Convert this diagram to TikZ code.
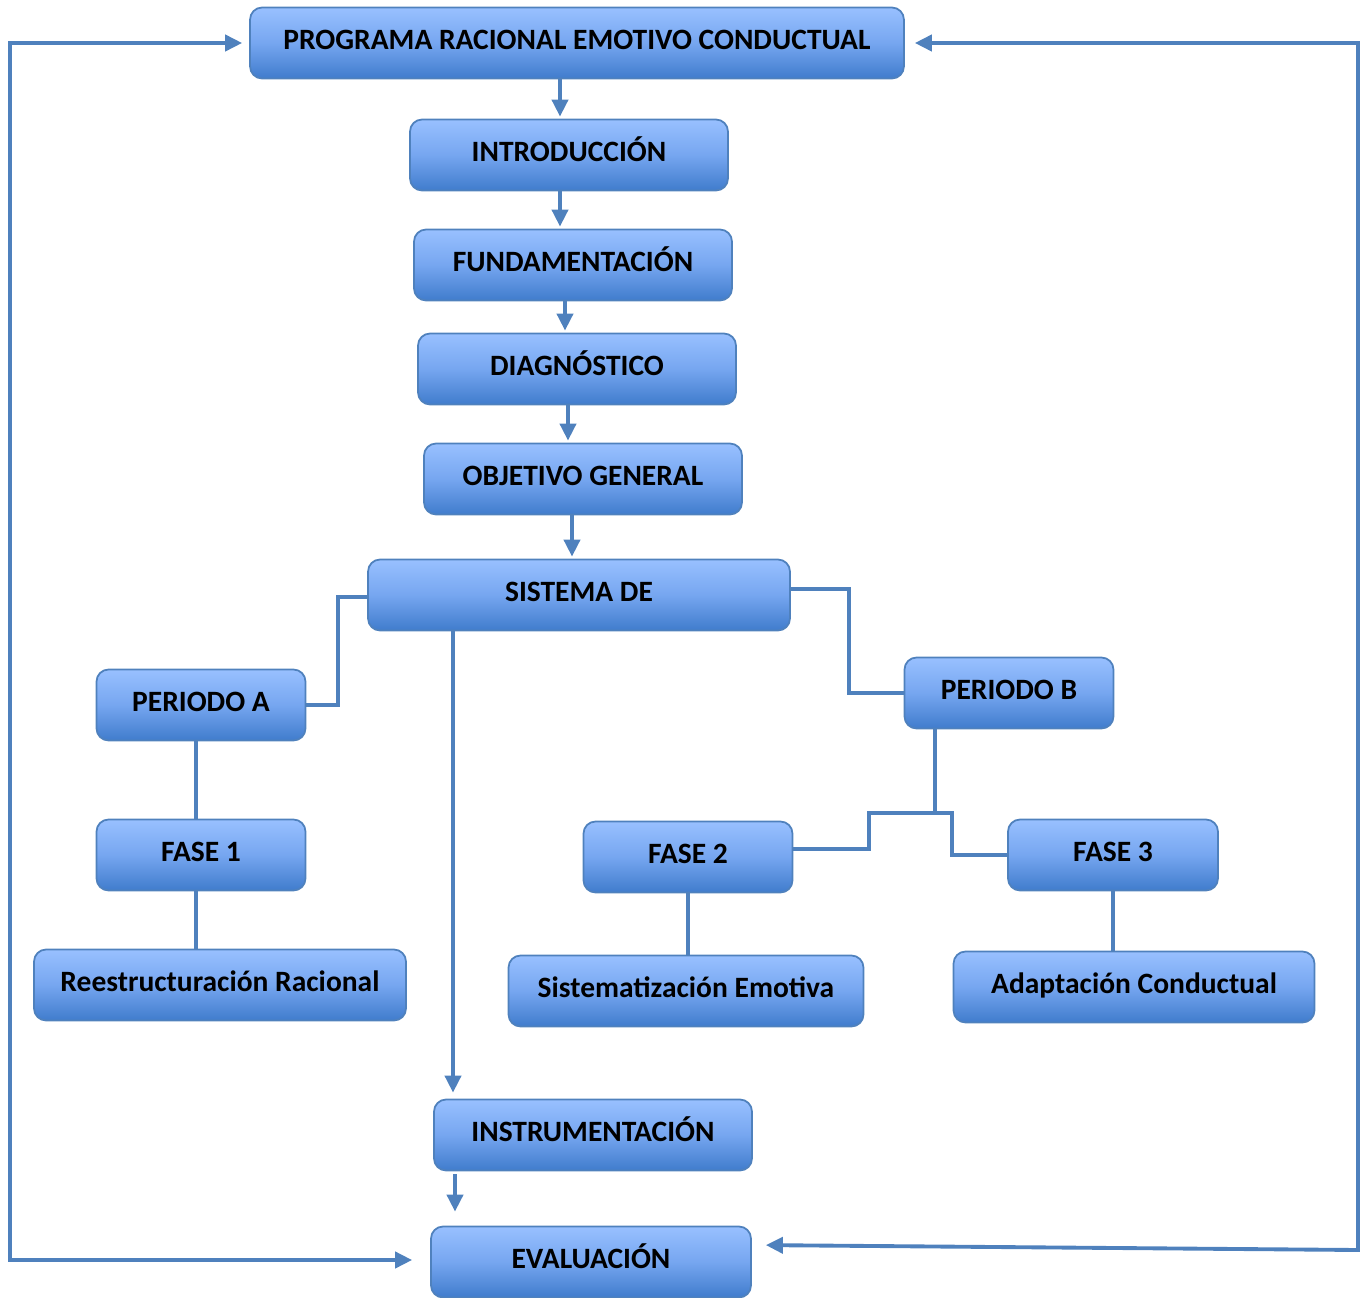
\documentclass[tikz,border=0pt]{standalone}
\usepackage{fontspec}
\setmainfont{Carlito}
\usetikzlibrary{arrows.meta}
\definecolor{linkblue}{RGB}{79,129,189}
\definecolor{boxtop}{RGB}{152,192,255}
\definecolor{boxmid}{RGB}{118,166,240}
\definecolor{boxbot}{RGB}{64,124,204}
\begin{document}
\begin{tikzpicture}[x=0.02cm,y=-0.02cm]
\tikzstyle{box}=[draw=linkblue,line width=1pt,rounded corners=0.24cm,top color=boxtop,bottom color=boxbot,middle color=boxmid,minimum height=1.42cm,inner sep=0pt,text height=0.4cm,text depth=0.13cm,text=black,font=\fontsize{16.8}{20}\selectfont\bfseries];
\tikzstyle{link}=[line width=2.2pt,draw=linkblue];
\tikzstyle{myarrow}=[link,-{Triangle[length=0.34cm,width=0.32cm]},shorten >=0.04cm];
\tikzstyle{looparrow}=[link,{Triangle[length=0.34cm,width=0.32cm]}-{Triangle[length=0.34cm,width=0.32cm]}];

\useasboundingbox (0,0) rectangle (1367,1298);

% main column
\node[box,minimum width=13.08cm] (prog) at (577,43) {PROGRAMA RACIONAL EMOTIVO CONDUCTUAL};
\node[box,minimum width=6.36cm] (intro) at (569,155) {INTRODUCCIÓN};
\node[box,minimum width=6.36cm] (fund) at (573,265) {FUNDAMENTACIÓN};
\node[box,minimum width=6.36cm] (diag) at (577,369) {DIAGNÓSTICO};
\node[box,minimum width=6.36cm] (obj) at (583,479) {OBJETIVO GENERAL};
\node[box,minimum width=8.44cm] (sist) at (579,595) {SISTEMA DE};
\node[box,minimum width=6.36cm] (instr) at (593,1135) {INSTRUMENTACIÓN};
\node[box,minimum width=6.40cm] (eval) at (591,1262) {EVALUACIÓN};

% periods and phases
\node[box,minimum width=4.18cm] (pera) at (201,705) {PERIODO A};
\node[box,minimum width=4.18cm] (perb) at (1009,693) {PERIODO B};
\node[box,minimum width=4.18cm] (fase1) at (201,855) {FASE 1};
\node[box,minimum width=4.18cm] (fase2) at (688,857) {FASE 2};
\node[box,minimum width=4.20cm] (fase3) at (1113,855) {FASE 3};
\node[box,minimum width=7.44cm] (rees) at (220,985) {Reestructuración Racional};
\node[box,minimum width=7.10cm] (sistem) at (686,991) {Sistematización Emotiva};
\node[box,minimum width=7.22cm] (adapt) at (1134,987) {Adaptación Conductual};

% arrows down the column
\draw[myarrow] (560,0 |- prog.south) -- (560,0 |- intro.north);
\draw[myarrow] (560,0 |- intro.south) -- (560,0 |- fund.north);
\draw[myarrow] (565,0 |- fund.south) -- (565,0 |- diag.north);
\draw[myarrow] (568,0 |- diag.south) -- (568,0 |- obj.north);
\draw[myarrow] (572,0 |- obj.south) -- (572,0 |- sist.north);
\draw[myarrow,shorten >=0.12cm] (453,0 |- sist.south) -- (453,0 |- instr.north);
\draw[myarrow,shorten <=0.06cm,shorten >=0.28cm] (455,0 |- instr.south) -- (455,0 |- eval.north);

% feedback loops
\draw[looparrow,shorten <=0.14cm,shorten >=0.36cm] (prog.west) -- (10,0 |- prog.west) -- (10,1260) -- (eval.west |- 0,1260);
\draw[looparrow,shorten <=0.2cm,shorten >=0.28cm] (prog.east) -- (1358,0 |- prog.east) -- (1358,1250) -- (eval.east |- 0,1245);

% branches
\draw[link] (sist.west |- 0,597) -- (338,597) |- (pera.east);
\draw[link] (sist.east |- 0,589) -- (849,589) |- (perb.west);
\draw[link] (196,0 |- pera.south) -- (196,0 |- fase1.north);
\draw[link] (196,0 |- fase1.south) -- (196,0 |- rees.north);
\coordinate (split) at (935,813);
\draw[link] (935,0 |- perb.south) -- (split);
\draw[link] (split) -- (869,813) -- (869,849) -- (fase2.east |- 0,849);
\draw[link] (split) -- (952,813) |- (fase3.west);
\draw[link] (fase2.south) -- (fase2.south |- sistem.north);
\draw[link] (fase3.south) -- (fase3.south |- adapt.north);

\end{tikzpicture}
\end{document}
